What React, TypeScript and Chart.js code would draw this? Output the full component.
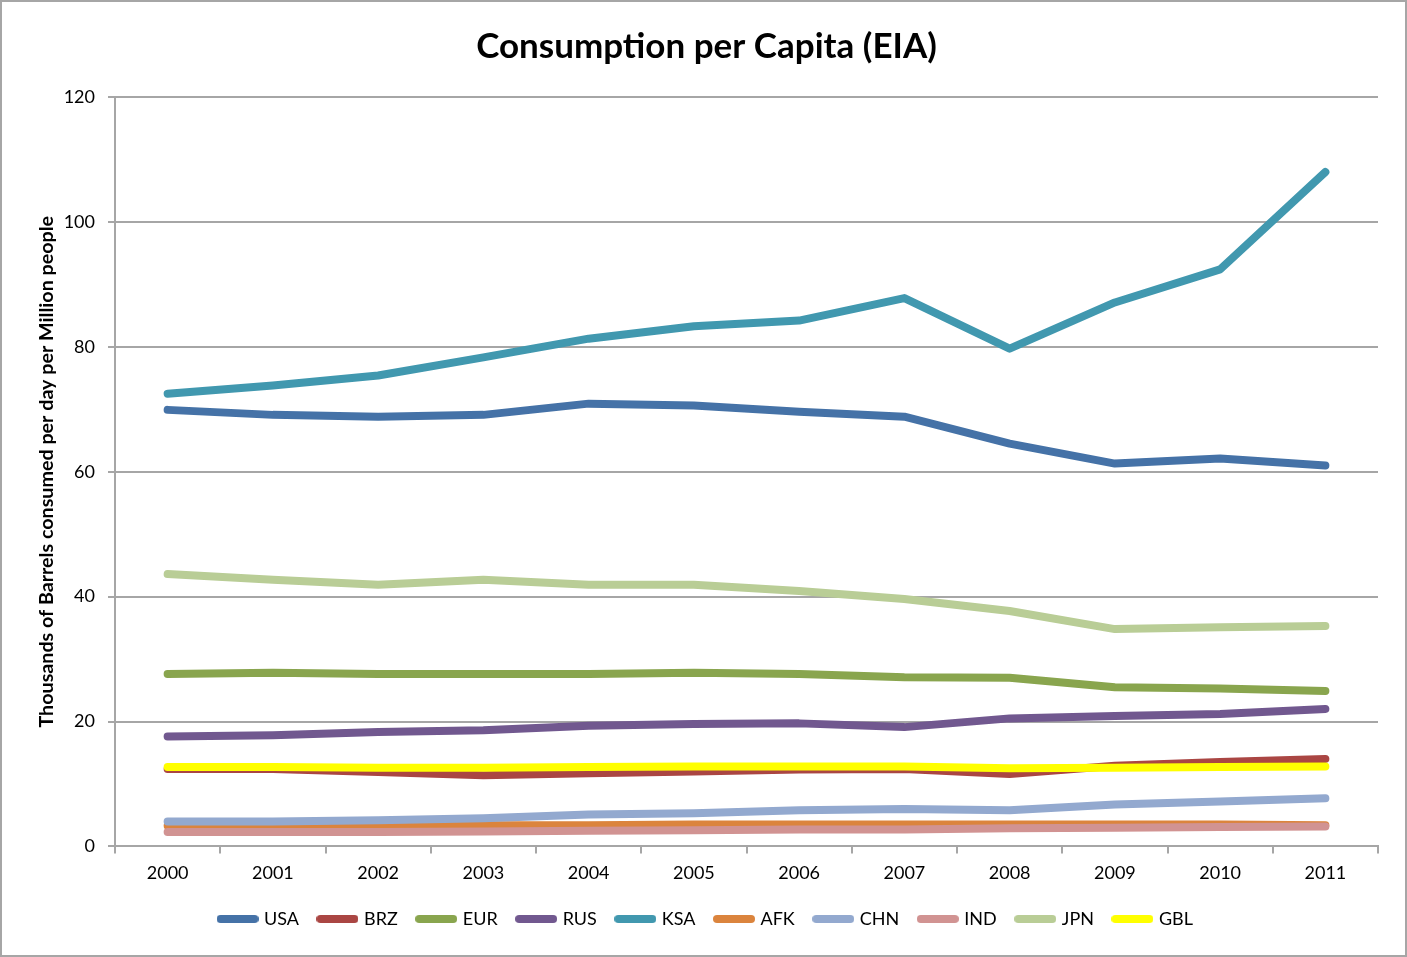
import React, { useEffect, useRef } from "react";
import { Chart, registerables } from "chart.js";

Chart.register(...registerables);

const years = ["2000", "2001", "2002", "2003", "2004", "2005", "2006", "2007", "2008", "2009", "2010", "2011"];

const usa = [69.9, 69.1, 68.8, 69.1, 70.9, 70.6, 69.6, 68.8, 64.5, 61.3, 62.1, 61.0];
const brz = [12.4, 12.4, 11.9, 11.4, 11.7, 12.0, 12.3, 12.4, 11.6, 12.9, 13.5, 14.0];
const eur = [27.6, 27.8, 27.6, 27.6, 27.6, 27.8, 27.6, 27.1, 27.0, 25.5, 25.3, 24.9];
const rus = [17.6, 17.8, 18.3, 18.6, 19.3, 19.6, 19.7, 19.1, 20.5, 20.9, 21.2, 22.0];
const ksa = [72.5, 73.8, 75.4, 78.3, 81.3, 83.3, 84.2, 87.8, 79.7, 87.1, 92.4, 108.0];
const afk = [3.3, 3.3, 3.3, 3.4, 3.4, 3.5, 3.5, 3.5, 3.5, 3.5, 3.5, 3.4];
const chn = [4.0, 4.0, 4.2, 4.5, 5.1, 5.3, 5.8, 6.0, 5.8, 6.7, 7.2, 7.7];
const ind = [2.3, 2.3, 2.3, 2.4, 2.5, 2.6, 2.7, 2.7, 2.9, 3.0, 3.1, 3.2];
const jpn = [43.6, 42.7, 41.9, 42.7, 41.9, 41.9, 40.9, 39.6, 37.7, 34.8, 35.1, 35.3];
const gbl = [12.7, 12.7, 12.6, 12.6, 12.7, 12.8, 12.8, 12.8, 12.5, 12.6, 12.7, 12.8];

const seriesNames = ["USA", "BRZ", "EUR", "RUS", "KSA", "AFK", "CHN", "IND", "JPN", "GBL"];
const seriesValues = [usa, brz, eur, rus, ksa, afk, chn, ind, jpn, gbl];
const seriesColors = ["#4572A7", "#AA4643", "#89A54E", "#71588F", "#4198AF", "#DB843D", "#93A9CF", "#D19392", "#B9CD96", "#FFFF00"];

const yTicks = { min: 0, max: 120, step: 20 };

const FONT = "Lato, 'Open Sans', sans-serif";
const GRID = "#a6a6a6";

function swatch(color: string): HTMLCanvasElement {
  const c = document.createElement("canvas");
  c.width = 42;
  c.height = 8;
  const ctx = c.getContext("2d")!;
  ctx.strokeStyle = color;
  ctx.lineWidth = 8;
  ctx.lineCap = "round";
  ctx.beginPath();
  ctx.moveTo(4, 4);
  ctx.lineTo(38, 4);
  ctx.stroke();
  return c;
}

export default function App() {
  const ref = useRef<HTMLCanvasElement | null>(null);

  useEffect(() => {
    if (!ref.current) return;
    const n = seriesNames.length;
    const chart = new Chart(ref.current, {
      type: "line",
      data: {
        labels: years,
        datasets: seriesNames.map((name, i) => ({
          label: name,
          data: seriesValues[i],
          borderColor: seriesColors[i],
          backgroundColor: seriesColors[i],
          borderWidth: 8,
          borderCapStyle: "round" as const,
          borderJoinStyle: "round" as const,
          pointRadius: 0,
          pointHoverRadius: 0,
          pointStyle: swatch(seriesColors[i]) as any,
          tension: 0,
          fill: false,
          order: n - i,
        })),
      },
      options: {
        responsive: false,
        animation: false,
        layout: { padding: { left: 35, right: 29, top: 0, bottom: 19 } },
        plugins: {
          title: {
            display: true,
            text: "Consumption per Capita (EIA)",
            color: "#000",
            font: { family: FONT, size: 35, weight: "bold" },
            padding: { top: 26, bottom: 29 },
          },
          legend: {
            position: "bottom",
            labels: {
              usePointStyle: true,
              pointStyleWidth: 35,
              color: "#000",
              font: { family: FONT, size: 18 },
              padding: 21,
              sort: (a: any, b: any) => a.datasetIndex - b.datasetIndex,
            },
          },
          tooltip: { enabled: false },
        },
        scales: {
          x: {
            type: "category",
            offset: true,
            grid: {
              offset: true,
              drawOnChartArea: false,
              drawTicks: true,
              tickLength: 7,
              color: GRID,
              lineWidth: 2,
            },
            border: { color: GRID, width: 2 },
            ticks: { color: "#000", font: { family: FONT, size: 18 }, padding: 9, maxRotation: 0 },
            afterFit: (s: any) => {
              s.height = 42.6;
            },
          },
          y: {
            min: yTicks.min,
            max: yTicks.max,
            ticks: { stepSize: yTicks.step, color: "#000", font: { family: FONT, size: 18 }, padding: 13 },
            grid: { color: GRID, lineWidth: 2, tickLength: 7 },
            border: { color: GRID, width: 2 },
            title: {
              display: true,
              text: "Thousands of Barrels consumed per day per Million people",
              color: "#000",
              font: { family: FONT, size: 19.7, weight: "bold" },
              padding: 0,
            },
            afterFit: (s: any) => {
              s.width = 80;
            },
          },
        },
      },
    });
    return () => chart.destroy();
  }, []);

  return (
    <div style={{ position: "absolute", left: 0, top: 0, width: 1407, height: 957, background: "#fff" }}>
      <canvas ref={ref} width={1407} height={957} style={{ display: "block", width: 1407, height: 957 }} />
      <div
        style={{
          position: "absolute",
          left: 0,
          top: 0,
          width: 1407,
          height: 957,
          boxSizing: "border-box",
          border: "2px solid #a6a6a6",
          pointerEvents: "none",
        }}
      />
    </div>
  );
}
